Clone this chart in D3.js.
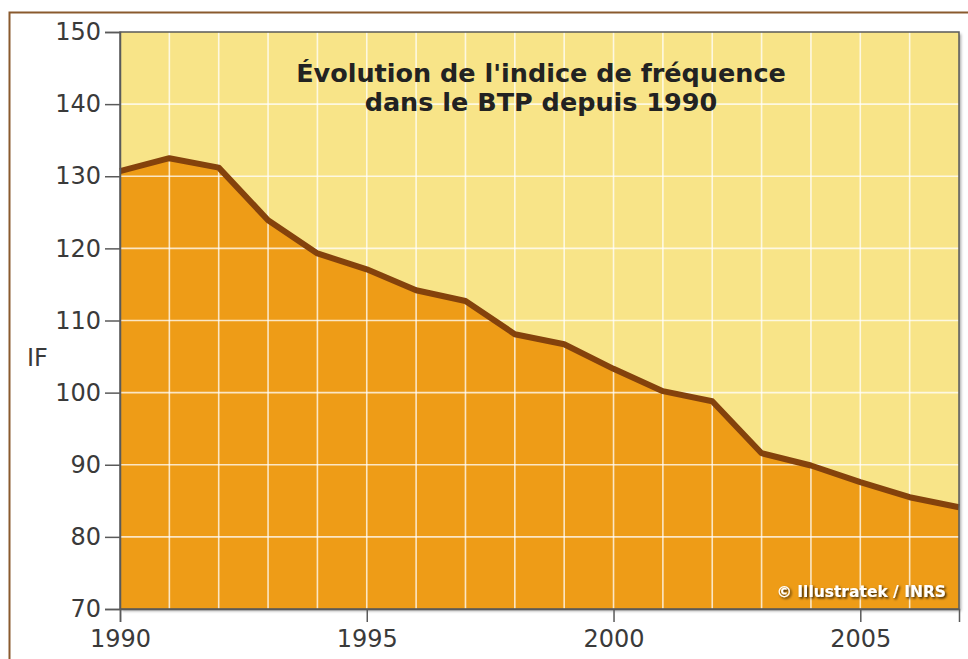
<!DOCTYPE html>
<html><head><meta charset="utf-8">
<script src="https://cdn.jsdelivr.net/npm/d3@7"></script>
<style>body{margin:0;background:#fff;} svg{display:block;}</style>
</head><body>
<svg id="c" width="968" height="659"></svg>
<script>
const years = [1990,1991,1992,1993,1994,1995,1996,1997,1998,1999,2000,2001,2002,2003,2004,2005,2006,2007];
const ifValues = [130.7,132.5,131.2,123.9,119.3,117.1,114.2,112.7,108.1,106.7,103.3,100.2,98.8,91.6,89.9,87.6,85.5,84.1];
const yTicks = [70,80,90,100,110,120,130,140,150];
const xTicks = [1990,1995,2000,2005];
const titleLines = ["Évolution de l'indice de fréquence","dans le BTP depuis 1990"];
const yLabel = "IF";
const credit = "© Illustratek /  INRS";

const svg = d3.select("#c");
const m = {l:120, t:32, r:959, b:609};
const x = d3.scaleLinear().domain([1990,2007]).range([m.l,m.r]);
const y = d3.scaleLinear().domain([70,150]).range([m.b,m.t]);
const font = "Verdana, 'DejaVu Sans', sans-serif";

// outer frame
svg.append("path").attr("d",`M9.5,${659} V12.5 H968`).attr("fill","none").attr("stroke","#8a5a2e").attr("stroke-width",2);

const defs = svg.append("defs");
const f = defs.append("filter").attr("id","sh").attr("x","-10%").attr("y","-50%").attr("width","130%").attr("height","200%");
f.append("feDropShadow").attr("dx",1.5).attr("dy",1.5).attr("stdDeviation",1.2).attr("flood-color","#000").attr("flood-opacity",0.8);
const f2 = defs.append("filter").attr("id","sh2");
f2.append("feDropShadow").attr("dx",2).attr("dy",2).attr("stdDeviation",1.5).attr("flood-color","#000").attr("flood-opacity",0.35);

// plot background
svg.append("rect").attr("x",m.l).attr("y",m.t).attr("width",m.r-m.l).attr("height",m.b-m.t)
  .attr("fill","#f8e488").attr("filter","url(#sh2)");

// area
const data = years.map((yr,i)=>({yr, v:ifValues[i]}));
svg.append("path").datum(data)
  .attr("d", d3.area().x(d=>x(d.yr)).y0(y(70)).y1(d=>y(d.v)))
  .attr("fill","#ee9c17");

// grid
const g = svg.append("g").attr("stroke","#fff").attr("stroke-opacity",0.75).attr("stroke-width",1.6);
years.slice(1,-1).forEach(yr=>g.append("line").attr("x1",x(yr)).attr("x2",x(yr)).attr("y1",m.t).attr("y2",m.b));
yTicks.slice(1,-1).forEach(v=>g.append("line").attr("y1",y(v)).attr("y2",y(v)).attr("x1",m.l).attr("x2",m.r));

// line
svg.append("path").datum(data)
  .attr("d", d3.line().x(d=>x(d.yr)).y(d=>y(d.v)))
  .attr("fill","none").attr("stroke","#84420c").attr("stroke-width",6).attr("stroke-linejoin","round");

// plot border
svg.append("rect").attr("x",m.l).attr("y",m.t).attr("width",m.r-m.l).attr("height",m.b-m.t)
  .attr("fill","none").attr("stroke","#5a5a5a").attr("stroke-width",1.5);

// axes
const ya = svg.append("g").attr("transform",`translate(${m.l},0)`)
  .call(d3.axisLeft(y).tickValues(yTicks).tickSize(15).tickPadding(4));
const xa = svg.append("g").attr("transform",`translate(0,${m.b})`)
  .call(d3.axisBottom(x).tickValues(xTicks).tickFormat(d3.format("d")).tickSize(13).tickPadding(8));
[ya,xa].forEach(a=>{
  a.select(".domain").attr("stroke","#5a5a5a").attr("stroke-width",1.5);
  a.selectAll(".tick line").attr("stroke","#5a5a5a").attr("stroke-width",1.5);
  a.selectAll(".tick text").attr("fill","#3a3a3a").style("font-family",font).style("font-size","24px");
});

// y label
svg.append("text").attr("x",27).attr("y",366).text(yLabel)
  .attr("fill","#3a3a3a").style("font-family",font).style("font-size","24px");

// title
const t = svg.append("text").attr("text-anchor","middle").attr("fill","#222")
  .style("font-family",font).style("font-size","25.5px").style("font-weight","bold");
titleLines.forEach((s,i)=>t.append("tspan").attr("x",541).attr("y",82+i*29).text(s));

// credit
svg.append("text").attr("x",946).attr("y",597).attr("text-anchor","end").text(credit)
  .attr("fill","#fff").attr("filter","url(#sh)")
  .style("font-family",font).style("font-size","15.5px").style("font-weight","bold");
</script>
</body></html>
